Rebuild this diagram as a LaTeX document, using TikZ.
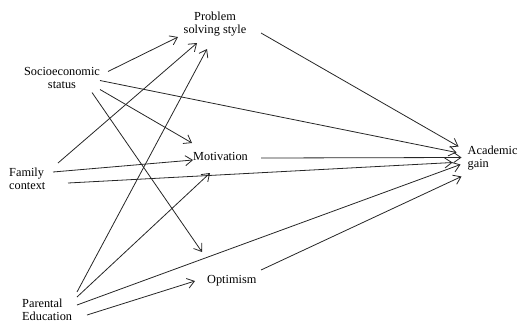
\documentclass[tikz,border=0pt]{standalone}
\usepackage{fontspec}
\setmainfont{Liberation Serif}
\usetikzlibrary{arrows.meta}
\begin{document}
\begin{tikzpicture}[x=1pt,y=-1pt,
  lbl/.style={inner sep=0pt,font=\fontsize{12.3}{12.8}\selectfont,text=black},
  arr/.style={draw=black!85,line width=0.8pt,-{Straight Barb[length=7pt,width=10pt]}}]
\useasboundingbox (0,0) rectangle (518,322);
\node[lbl,anchor=base,align=center] (pss) at (215,33) {Problem\\solving style};
\node[lbl,anchor=base,align=center] (ses) at (62,88.5) {Socioeconomic\\status};
\node[lbl,anchor=base west,align=left] (fam) at (9,189) {Family\\context};
\node[lbl,anchor=base west] (mot) at (193,160) {Motivation};
\node[lbl,anchor=base west] (opt) at (207,283) {Optimism};
\node[lbl,anchor=base west,align=left] (par) at (22,320) {Parental\\Education};
\node[lbl,anchor=base west,align=left] (ag) at (467.5,167.5) {Academic\\gain};
% SES
\draw[arr] ([shift={(46,-17)}]ses.base) -- ([shift={(-37,4)}]pss.base);
\draw[arr] ([shift={(38,-8)}]ses.base) -- ([shift={(-11,-15)}]ag.base west);
\draw[arr] ([shift={(38,1)}]ses.base) -- ([shift={(-1,-17)}]mot.base west);
\draw[arr] ([shift={(30,4)}]ses.base) -- ([shift={(-5,-31)}]opt.base west);
% Family
\draw[arr] ([shift={(49,-26)}]fam.base west) -- ([shift={(-18,10)}]pss.base);
\draw[arr] ([shift={(44,-17)}]fam.base west) -- ([shift={(0,0)}]mot.base west);
\draw[arr] ([shift={(59,-6)}]fam.base west) -- ([shift={(-15,-5)}]ag.base west);
% Parental
\draw[arr] ([shift={(55,-28)}]par.base west) -- ([shift={(-8,16)}]pss.base);
\draw[arr] ([shift={(55,-23)}]par.base west) -- ([shift={(17,13)}]mot.base west);
\draw[arr] ([shift={(55,-15)}]par.base west) -- ([shift={(-7,-3)}]ag.base west);
\draw[arr] ([shift={(65,-5)}]par.base west) -- ([shift={(-12,-2)}]opt.base west);
% to academic gain
\draw[arr] ([shift={(46,0)}]pss.base) -- ([shift={(-9,-21)}]ag.base west);
\draw[arr] ([shift={(68,-2)}]mot.base west) -- ([shift={(-6,-10)}]ag.base west);
\draw[arr] ([shift={(54,-13)}]opt.base west) -- ([shift={(-6,9)}]ag.base west);
\end{tikzpicture}
\end{document}
